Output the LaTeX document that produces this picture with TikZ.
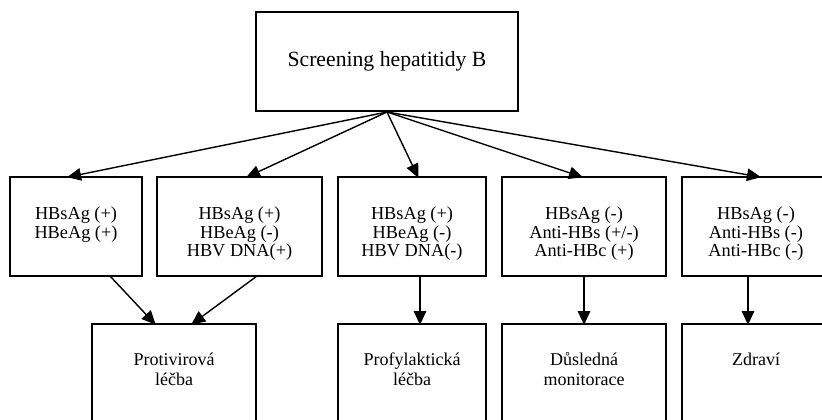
\documentclass[tikz,border=0pt]{standalone}
\usepackage{fontspec}
\setmainfont{Liberation Serif}
\usetikzlibrary{arrows.meta}
\begin{document}
\begin{tikzpicture}[x=1pt,y=-1pt,
  box/.style={draw=black, line width=1.9pt, rectangle, inner sep=0pt},
  lbl/.style={align=center, inner sep=0pt, anchor=north, font=\fontsize{18.3}{18.7}\selectfont},
  arr/.style={line width=1.4pt, -{Triangle[length=14pt,width=12.5pt]}, shorten >=-1pt}]
\useasboundingbox (0,0) rectangle (822,420);
\begin{scope}
\clip (0,0) rectangle (822,420);
% top
\node[box, minimum width=262pt, minimum height=99pt, font=\fontsize{21.7}{24}\selectfont] (top) at (387,61.5) {Screening hepatitidy B};
% row 1
\node[box, minimum width=132pt, minimum height=99pt] (b1) at (76,226.5) {};
\node[box, minimum width=165pt, minimum height=99pt] (b2) at (239.5,226.5) {};
\node[box, minimum width=148pt, minimum height=99pt] (b3) at (412,226.5) {};
\node[box, minimum width=164pt, minimum height=99pt] (b4) at (584,226.5) {};
\node[box, minimum width=164pt, minimum height=99pt] (b5) at (764,226.5) {};
\node[lbl] (t1) at (76,206.5) {HBsAg (+)\\HBeAg (+)};
\node[lbl] (t2) at (239.5,206.5) {HBsAg (+)\\HBeAg (-)\\HBV DNA(+)};
\node[lbl] (t3) at (412,206.5) {HBsAg (+)\\HBeAg (-)\\HBV DNA(-)};
\node[lbl] (t4) at (584,206.5) {HBsAg (-)\\Anti-HBs (+/-)\\Anti-HBc (+)};
\node[lbl] (t5) at (756,206.5) {HBsAg (-)\\Anti-HBs (-)\\Anti-HBc (-)};
% row 2
\node[box, minimum width=164pt, minimum height=110pt] (c1) at (174,379) {};
\node[box, minimum width=148pt, minimum height=110pt] (c2) at (412,379) {};
\node[box, minimum width=164pt, minimum height=110pt] (c3) at (584,379) {};
\node[box, minimum width=164pt, minimum height=110pt] (c4) at (764,379) {};
\node[lbl, font=\fontsize{18}{20}\selectfont] (u1) at (174,352.5) {Protivirová\\léčba};
\node[lbl, font=\fontsize{18}{20}\selectfont] (u2) at (412,352.5) {Profylaktická\\léčba};
\node[lbl, font=\fontsize{18}{20}\selectfont] (u3) at (584,352.5) {Důsledná\\monitorace};
\node[lbl, font=\fontsize{18}{20}\selectfont] (u4) at (756,352.5) {Zdraví};
% connector end points
\coordinate (s0) at (387,112);
\coordinate (e1) at (68,177);
\coordinate (e2) at (247,177);
\coordinate (e3) at (418,177);
\coordinate (e4) at (582,177);
\coordinate (e5) at (760,177);
\coordinate (f1s) at (110,276);
\coordinate (f1e) at (155,324);
\coordinate (f2s) at (257,276);
\coordinate (f2e) at (192,324);
\coordinate (f3s) at (420,276);
\coordinate (f3e) at (420,324);
\coordinate (f4s) at (584,276);
\coordinate (f4e) at (584,324);
\coordinate (f5s) at (748,276);
\coordinate (f5e) at (748,324);
\draw[arr] (s0) -- (e1);
\draw[arr] (s0) -- (e2);
\draw[arr] (s0) -- (e3);
\draw[arr] (s0) -- (e4);
\draw[arr] (s0) -- (e5);
\draw[arr] (f1s) -- (f1e);
\draw[arr] (f2s) -- (f2e);
\draw[arr] (f3s) -- (f3e);
\draw[arr] (f4s) -- (f4e);
\draw[arr] (f5s) -- (f5e);
\end{scope}
\end{tikzpicture}
\end{document}
